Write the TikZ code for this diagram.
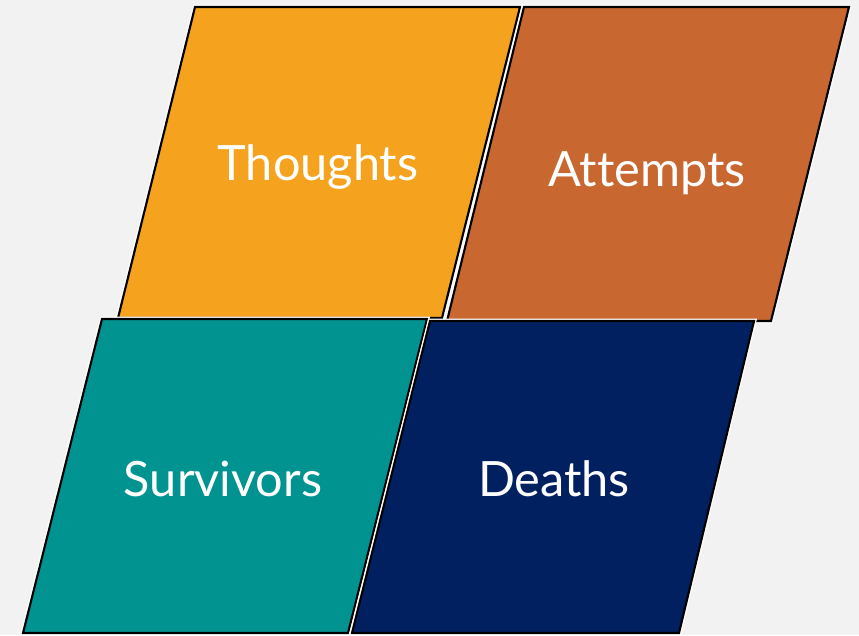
\documentclass[tikz,border=0pt]{standalone}
\usepackage{fontspec}
\setmainfont{Lato}[Ligatures={NoCommon, NoDiscretionary}]
\usetikzlibrary{calc}

\definecolor{bgGrey}{HTML}{F2F2F2}
\definecolor{thoughtOrange}{HTML}{F5A31E}
\definecolor{attemptRust}{HTML}{C8672F}
\definecolor{survivorTeal}{HTML}{009390}
\definecolor{deathNavy}{HTML}{002060}

\tikzset{
  tile/.style={draw=black, line width=1.6pt, line join=miter,
    preaction={draw=white, line width=3.6pt}},
  tilelabel/.style={text=white, font=\fontsize{36.5}{42}\selectfont, inner sep=0pt}
}

\begin{document}
\begin{tikzpicture}[x=0.75pt, y=-0.75pt]
      \fill[bgGrey] (0, 0) rectangle (859, 635);
      \useasboundingbox (0, 0) rectangle (859, 635);

      \draw[tile, fill=thoughtOrange] (195, 7) -- (520, 7) -- (442, 318) -- (118, 318) -- cycle;
      \draw[tile, fill=attemptRust] (524, 7) -- (849, 7) -- (771, 321) -- (447, 321) -- cycle;
      \draw[tile, fill=survivorTeal] (102, 319) -- (427, 319) -- (348, 633) -- (23, 633) -- cycle;
      \draw[tile, fill=deathNavy] (430, 321) -- (754, 321) -- (679, 633) -- (352, 633) -- cycle;

      \node[tilelabel, anchor=base] (thoughts) at (318, 180) {Thoughts};
      \node[tilelabel, anchor=base] (attempts) at (647, 186) {Attempts};
      \node[tilelabel, anchor=base] (survivors) at (223, 496) {Survivors};
      \node[tilelabel, anchor=base] (deaths) at (554, 496) {Deaths};
    \end{tikzpicture}
\end{document}
